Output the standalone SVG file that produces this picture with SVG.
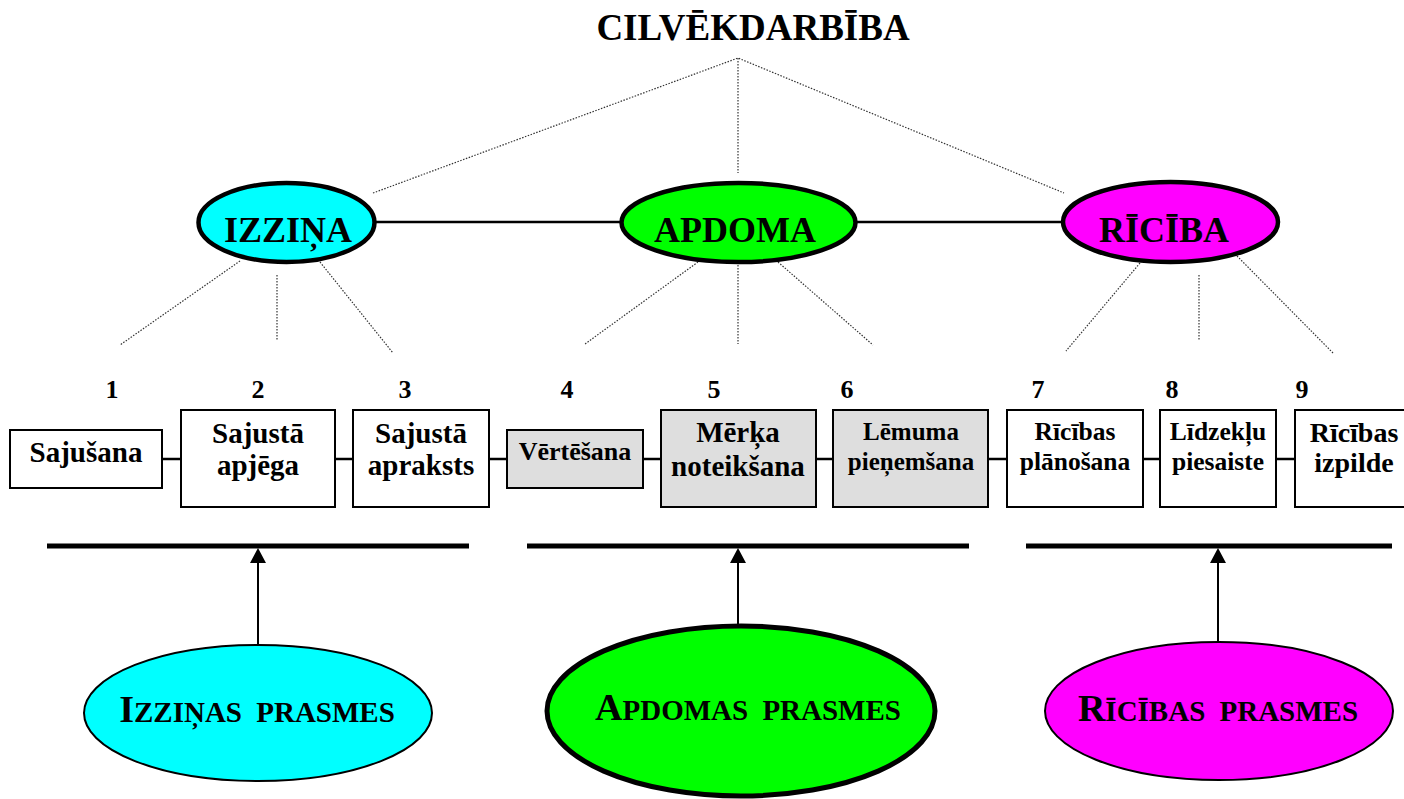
<svg xmlns="http://www.w3.org/2000/svg" width="1404" height="799" viewBox="0 0 1404 799">
<style>
text{font-family:"Liberation Serif","Times New Roman",serif;font-weight:bold;fill:#000;text-anchor:middle}
.dot{stroke:#333;stroke-width:1.2;stroke-dasharray:1.5 1.5;fill:none}
.solid{stroke:#000;stroke-width:2.5;fill:none}
.bar{stroke:#000;stroke-width:5;fill:none}
.box{fill:#fff;stroke:#000;stroke-width:2}
.gbox{fill:#dedede;stroke:#000;stroke-width:2}
.top{stroke:#000;stroke-width:4.5}
.bot{stroke:#000;stroke-width:2}
.num{font-size:26px}
.big{font-size:36px}
.sc{font-size:29px}
.cap{font-size:38px}
</style>
<rect width="1404" height="799" fill="#fff"/>
<g id="connectors">
<polyline class="dot" points="373,193 738,58 1064,193"/>
<line class="dot" x1="738" y1="58" x2="738" y2="173"/>
<line class="dot" x1="240" y1="261" x2="120" y2="345"/>
<line class="dot" x1="277" y1="275" x2="277" y2="340"/>
<line class="dot" x1="320" y1="262" x2="393" y2="353"/>
<line class="dot" x1="698" y1="262" x2="585" y2="344"/>
<line class="dot" x1="738" y1="262" x2="738" y2="344"/>
<line class="dot" x1="778" y1="262" x2="873" y2="345"/>
<line class="dot" x1="1140" y1="263" x2="1066" y2="351"/>
<line class="dot" x1="1199" y1="275" x2="1199" y2="340"/>
<line class="dot" x1="1237" y1="256" x2="1333" y2="353"/>
<line class="solid" x1="375" y1="222" x2="621" y2="222"/>
<line class="solid" x1="856" y1="222" x2="1063" y2="222"/>
<line class="solid" x1="162" y1="459" x2="181" y2="459"/>
<line class="solid" x1="335" y1="459" x2="353" y2="459"/>
<line class="solid" x1="489" y1="459" x2="507" y2="459"/>
<line class="solid" x1="643" y1="459" x2="661" y2="459"/>
<line class="solid" x1="816" y1="459" x2="833" y2="459"/>
<line class="solid" x1="988" y1="459" x2="1007" y2="459"/>
<line class="solid" x1="1143" y1="459" x2="1160" y2="459"/>
<line class="solid" x1="1276" y1="459" x2="1295" y2="459"/>
<line class="bar" x1="47" y1="546" x2="469" y2="546"/>
<line class="bar" x1="527" y1="546" x2="969" y2="546"/>
<line class="bar" x1="1026" y1="546" x2="1392" y2="546"/>
<line stroke="#000" stroke-width="2" x1="258" y1="644" x2="258" y2="560"/>
<polygon points="258,548 250,563 266,563" fill="#000"/>
<line stroke="#000" stroke-width="2" x1="738" y1="626" x2="738" y2="560"/>
<polygon points="738,548 730,563 746,563" fill="#000"/>
<line stroke="#000" stroke-width="2" x1="1218" y1="644" x2="1218" y2="560"/>
<polygon points="1218,548 1210,563 1226,563" fill="#000"/>
</g>
<g id="title"><text x="753" y="40" style="font-size:37px">CILVĒKDARBĪBA</text></g>
<g id="izzina"><ellipse class="top" cx="286.5" cy="222.5" rx="88" ry="39.5" fill="#00ffff"/><text class="big" x="288" y="242">IZZIŅA</text></g>
<g id="apdoma"><ellipse class="top" cx="738.5" cy="222.5" rx="117" ry="39.5" fill="#00ff00"/><text class="big" x="735" y="242">APDOMA</text></g>
<g id="riciba"><ellipse class="top" cx="1170.5" cy="222" rx="107.5" ry="40" fill="#ff00ff"/><text class="big" x="1164" y="242">RĪCĪBA</text></g>
<g id="numbers">
<text class="num" x="112" y="398">1</text>
<text class="num" x="258" y="398">2</text>
<text class="num" x="405" y="398">3</text>
<text class="num" x="567" y="398">4</text>
<text class="num" x="714" y="398">5</text>
<text class="num" x="847" y="398">6</text>
<text class="num" x="1038" y="398">7</text>
<text class="num" x="1172" y="398">8</text>
<text class="num" x="1302" y="398">9</text>
</g>
<g id="box1"><rect class="box" x="10" y="430" width="152" height="58"/><text x="86" y="462" style="font-size:29px">Sajušana</text></g>
<g id="box2"><rect class="box" x="181" y="410" width="154" height="97"/><text x="258" y="443" style="font-size:29px">Sajustā</text><text x="258" y="475" style="font-size:29px">apjēga</text></g>
<g id="box3"><rect class="box" x="353" y="410" width="136" height="97"/><text x="421" y="443" style="font-size:29px">Sajustā</text><text x="421" y="475" style="font-size:29px">apraksts</text></g>
<g id="box4"><rect class="gbox" x="507" y="430" width="136" height="58"/><text x="575" y="460" style="font-size:26px">Vērtēšana</text></g>
<g id="box5"><rect class="gbox" x="661" y="410" width="155" height="97"/><text x="738" y="442" style="font-size:29px">Mērķa</text><text x="738" y="476" style="font-size:29px">noteikšana</text></g>
<g id="box6"><rect class="gbox" x="833" y="410" width="155" height="97"/><text x="911" y="440" style="font-size:25px">Lēmuma</text><text x="911" y="470" style="font-size:25px">pieņemšana</text></g>
<g id="box7"><rect class="box" x="1007" y="410" width="136" height="97"/><text x="1075" y="440" style="font-size:25.5px">Rīcības</text><text x="1075" y="470" style="font-size:25.5px">plānošana</text></g>
<g id="box8"><rect class="box" x="1160" y="410" width="116" height="97"/><text x="1218" y="440" style="font-size:25.5px">Līdzekļu</text><text x="1218" y="470" style="font-size:25.5px">piesaiste</text></g>
<g id="box9"><rect class="box" x="1295" y="410" width="120" height="97"/><text x="1354" y="442" style="font-size:28px">Rīcības</text><text x="1354" y="472" style="font-size:28px">izpilde</text></g>
<g id="izzinas-prasmes"><ellipse class="bot" cx="258" cy="713" rx="174" ry="68" fill="#00ffff"/><text x="257" y="722" word-spacing="7"><tspan class="cap">I</tspan><tspan class="sc">ZZIŅAS PRASMES</tspan></text></g>
<g id="apdomas-prasmes"><ellipse cx="741" cy="711" rx="194" ry="85" fill="#00ff00" stroke="#000" stroke-width="5"/><text x="748" y="720" word-spacing="7"><tspan class="cap">A</tspan><tspan class="sc">PDOMAS PRASMES</tspan></text></g>
<g id="ricibas-prasmes"><ellipse class="bot" cx="1219" cy="711" rx="174" ry="69" fill="#ff00ff"/><text x="1218" y="721" word-spacing="7"><tspan class="cap">R</tspan><tspan class="sc">ĪCĪBAS PRASMES</tspan></text></g>
</svg>
